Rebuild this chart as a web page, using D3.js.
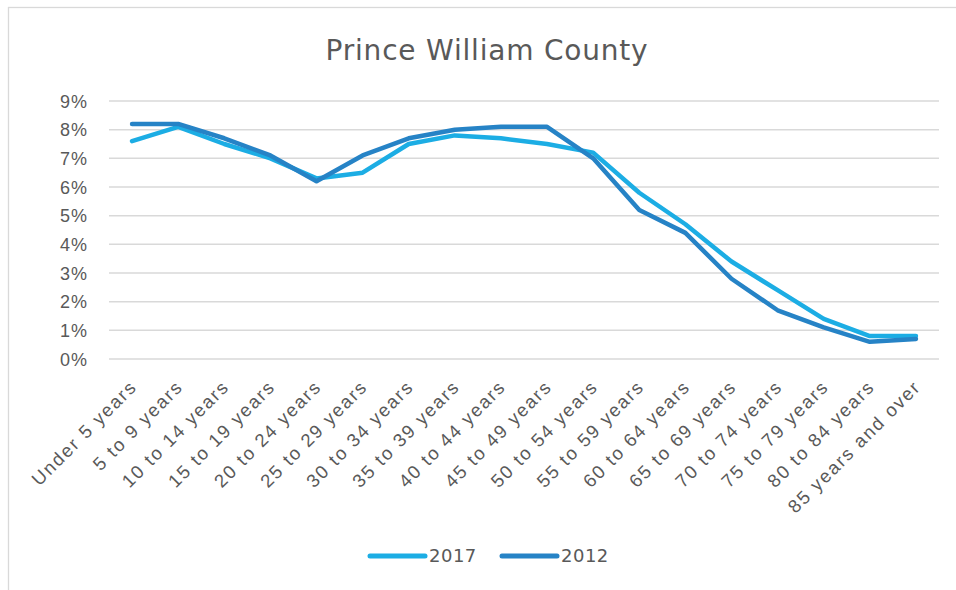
<!DOCTYPE html>
<html>
<head>
<meta charset="utf-8">
<script src="https://cdn.jsdelivr.net/npm/d3@7"></script>
<style>
  body { margin: 0; background: #fff; }
  svg { font-family: "DejaVu Sans", sans-serif; }
</style>
</head>
<body>
<svg id="chart" width="956" height="590"></svg>
<script>
// age groups and shares (%)
var categories = ["Under 5 years", "5 to 9 years", "10 to 14 years", "15 to 19 years", "20 to 24 years",
  "25 to 29 years", "30 to 34 years", "35 to 39 years", "40 to 44 years", "45 to 49 years",
  "50 to 54 years", "55 to 59 years", "60 to 64 years", "65 to 69 years", "70 to 74 years",
  "75 to 79 years", "80 to 84 years", "85 years and over"];
var values2017 = [7.6, 8.1, 7.5, 7.0, 6.3, 6.5, 7.5, 7.8, 7.7, 7.5, 7.2, 5.8, 4.7, 3.4, 2.4, 1.4, 0.8, 0.8];
var values2012 = [8.2, 8.2, 7.7, 7.1, 6.2, 7.1, 7.7, 8.0, 8.1, 8.1, 7.0, 5.2, 4.4, 2.8, 1.7, 1.1, 0.6, 0.7];
var yTicks = [0, 1, 2, 3, 4, 5, 6, 7, 8, 9];
var seriesNames = ["2017", "2012"];

var colors = {"2017": "#1cade4", "2012": "#2683c6"};
var series = [
  {name: "2017", values: values2017},
  {name: "2012", values: values2012}
];

var svg = d3.select("#chart"),
    margin = {top: 101, right: 17, bottom: 231, left: 109},
    width = +svg.attr("width") - margin.left - margin.right,
    height = +svg.attr("height") - margin.top - margin.bottom;

// chart frame
svg.append("rect")
    .attr("x", 8.5).attr("y", 7.5)
    .attr("width", 960).attr("height", 600)
    .attr("fill", "none")
    .attr("stroke", "#d9d9d9")
    .attr("stroke-width", 1.3);

svg.append("text")
    .attr("x", 487)
    .attr("y", 60)
    .attr("text-anchor", "middle")
    .attr("fill", "#595959")
    .style("font-size", "28px")
    .style("letter-spacing", "0.8px")
    .text("Prince William County");

var g = svg.append("g").attr("transform", "translate(" + margin.left + "," + margin.top + ")");

var x = d3.scaleBand().domain(categories).range([0, width]);
var y = d3.scaleLinear().domain([0, 9]).range([height, 0]);

// gridlines
g.append("g")
    .selectAll("line")
    .data(yTicks)
    .enter().append("line")
      .attr("x1", 0).attr("x2", width)
      .attr("y1", function(d) { return y(d); })
      .attr("y2", function(d) { return y(d); })
      .attr("stroke", "#d9d9d9")
      .attr("stroke-width", 1.5);

var yAxis = g.append("g")
    .call(d3.axisLeft(y).tickValues(yTicks).tickSize(0).tickPadding(21).tickFormat(function(d) { return d + "%"; }));
yAxis.select(".domain").remove();
yAxis.selectAll("text").attr("fill", "#595959").style("font-size", "18px").style("letter-spacing", "1px").attr("dy", "0.35em");

var xAxis = g.append("g")
    .attr("transform", "translate(0," + height + ")")
    .call(d3.axisBottom(x).tickSize(0).tickPadding(0));
xAxis.select(".domain").remove();
xAxis.selectAll("text")
    .attr("fill", "#595959")
    .style("font-size", "18.5px")
    .style("letter-spacing", "1.8px")
    .style("text-anchor", "end")
    .attr("y", 0)
    .attr("dy", 0)
    .attr("transform", "translate(6,29) rotate(-45)");

var line = d3.line()
    .x(function(d, i) { return x(categories[i]) + x.bandwidth() / 2; })
    .y(function(d) { return y(d); });

g.selectAll(".serie")
    .data(series)
    .enter().append("path")
      .attr("class", "serie")
      .attr("d", function(d) { return line(d.values); })
      .attr("fill", "none")
      .attr("stroke", function(d) { return colors[d.name]; })
      .attr("stroke-width", 4.5)
      .attr("stroke-linejoin", "round")
      .attr("stroke-linecap", "round");

// legend
var legend = svg.selectAll(".legend")
    .data(seriesNames)
    .enter().append("g")
      .attr("class", "legend")
      .attr("transform", function(d, i) { return "translate(" + (370 + i * 132) + ",556)"; });
legend.append("line")
    .attr("x1", 0).attr("x2", 55)
    .attr("stroke", function(d) { return colors[d]; })
    .attr("stroke-width", 5)
    .attr("stroke-linecap", "round");
legend.append("text")
    .attr("x", 59)
    .attr("dy", "0.35em")
    .attr("fill", "#595959")
    .style("font-size", "18px")
    .style("letter-spacing", "0.5px")
    .text(function(d) { return d; });
</script>
</body>
</html>
